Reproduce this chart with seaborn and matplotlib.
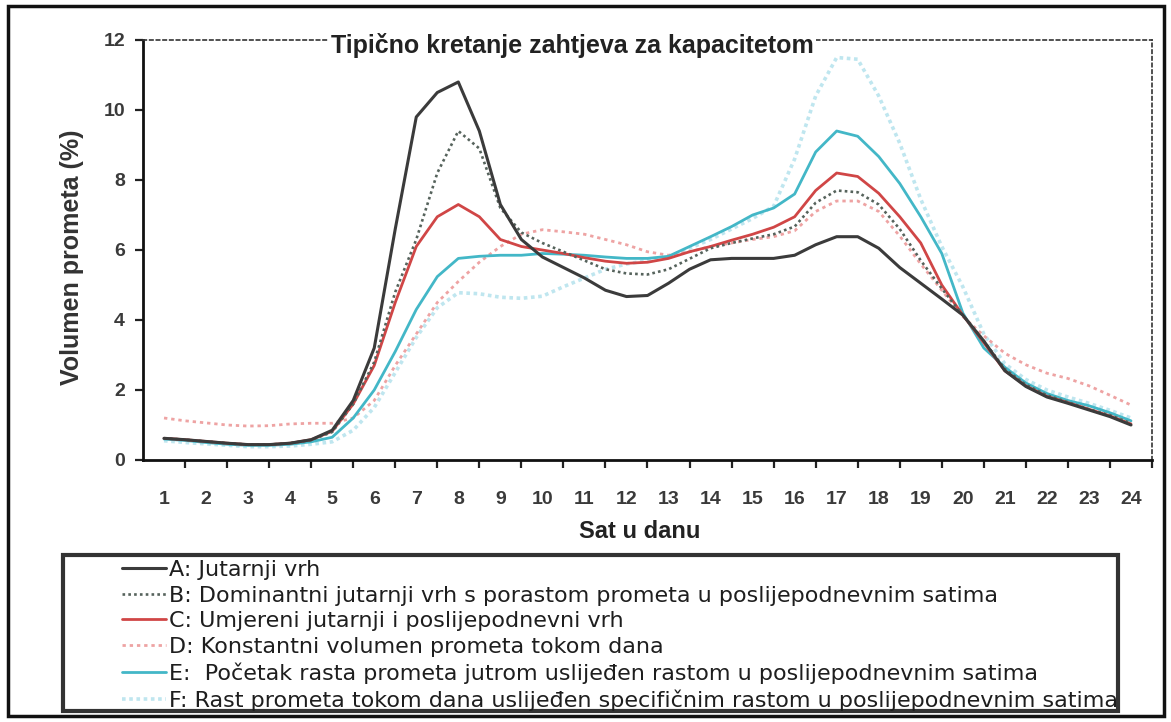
import numpy as np
import matplotlib
matplotlib.use("Agg")
import matplotlib.pyplot as plt
from matplotlib.patches import Rectangle
from matplotlib.lines import Line2D
import seaborn as sns

# sat u danu, po pola sata
hours = np.arange(1, 24.5, 0.5)

a_jutarnji = [0.62, 0.58, 0.53, 0.48, 0.44, 0.44, 0.48, 0.58, 0.85, 1.7, 3.2, 6.6, 9.8, 10.5, 10.8, 9.4,
              7.3, 6.3, 5.8, 5.5, 5.2, 4.85, 4.67, 4.7, 5.05, 5.45, 5.72, 5.76, 5.76, 5.76, 5.85, 6.15,
              6.38, 6.38, 6.05, 5.5, 5.05, 4.6, 4.14, 3.4, 2.55, 2.1, 1.8, 1.62, 1.43, 1.24, 1.0]
b_dominantni = [0.62, 0.58, 0.53, 0.48, 0.44, 0.44, 0.48, 0.57, 0.8, 1.6, 2.8, 4.8, 6.3, 8.2, 9.4, 8.9,
                7.2, 6.5, 6.2, 5.95, 5.7, 5.45, 5.33, 5.3, 5.45, 5.75, 6.05, 6.2, 6.33, 6.45, 6.67, 7.35,
                7.7, 7.65, 7.3, 6.6, 5.7, 4.9, 4.14, 3.4, 2.6, 2.15, 1.85, 1.65, 1.45, 1.28, 1.05]
c_umjereni = [0.62, 0.58, 0.53, 0.48, 0.44, 0.44, 0.48, 0.58, 0.82, 1.6, 2.7, 4.5, 6.1, 6.95, 7.3, 6.95,
              6.3, 6.1, 6.0, 5.9, 5.78, 5.68, 5.62, 5.65, 5.76, 5.95, 6.1, 6.28, 6.45, 6.65, 6.95, 7.7,
              8.2, 8.1, 7.62, 6.95, 6.2, 5.0, 4.14, 3.35, 2.55, 2.12, 1.82, 1.64, 1.45, 1.26, 1.03]
d_konstantni = [1.2, 1.12, 1.06, 1.0, 0.97, 0.98, 1.03, 1.05, 1.05, 1.2, 1.7, 2.7, 3.6, 4.5, 5.1, 5.65,
                6.1, 6.45, 6.58, 6.52, 6.45, 6.3, 6.15, 5.95, 5.85, 5.95, 6.1, 6.2, 6.3, 6.38, 6.55, 7.1,
                7.4, 7.4, 7.1, 6.4, 5.6, 4.85, 4.1, 3.55, 3.05, 2.72, 2.48, 2.33, 2.12, 1.85, 1.57]
e_pocetak = [0.6, 0.56, 0.5, 0.45, 0.42, 0.42, 0.45, 0.52, 0.65, 1.2, 2.0, 3.1, 4.3, 5.24, 5.76, 5.82,
             5.85, 5.85, 5.9, 5.88, 5.85, 5.8, 5.76, 5.76, 5.82, 6.1, 6.38, 6.67, 7.0, 7.2, 7.6, 8.8,
             9.4, 9.25, 8.67, 7.9, 6.95, 5.9, 4.2, 3.2, 2.65, 2.2, 1.9, 1.7, 1.55, 1.35, 1.12]
f_rast = [0.55, 0.5, 0.46, 0.42, 0.38, 0.38, 0.4, 0.45, 0.52, 0.85, 1.5, 2.5, 3.5, 4.35, 4.78, 4.75,
          4.65, 4.62, 4.68, 4.95, 5.2, 5.45, 5.6, 5.7, 5.8, 6.05, 6.3, 6.6, 6.9, 7.25, 8.6, 10.4,
          11.5, 11.45, 10.4, 9.05, 7.45, 6.1, 4.95, 3.6, 2.75, 2.3, 2.0, 1.8, 1.62, 1.42, 1.2]

legend_labels = [
    "A: Jutarnji vrh",
    "B: Dominantni jutarnji vrh s porastom prometa u poslijepodnevnim satima",
    "C: Umjereni jutarnji i poslijepodnevni vrh",
    "D: Konstantni volumen prometa tokom dana",
    "E:  Početak rasta prometa jutrom uslijeđen rastom u poslijepodnevnim satima",
    "F: Rast prometa tokom dana uslijeđen specifičnim rastom u poslijepodnevnim satima",
]
series = [a_jutarnji, b_dominantni, c_umjereni, d_konstantni, e_pocetak, f_rast]
colors = ["#3b3b3b", "#56635c", "#d04646", "#eea3a3", "#43b7c7", "#bfe6ef"]
styles = ["-", (0, (1, 1.2)), "-", (0, (1.2, 1.4)), "-", (0, (1, 1))]
widths = [2.2, 1.9, 2.0, 2.0, 2.0, 2.6]

sns.set_style("white")
plt.rcParams["font.family"] = ["Liberation Sans", "DejaVu Sans"]

W, H = 1171, 722
fig = plt.figure(figsize=(W / 100, H / 100), dpi=100)
ax = fig.add_axes([143 / W, 1 - 460 / H, (1152 - 143) / W, (460 - 40) / H])

# svjetlije linije prve, crna na vrhu
for i in [5, 3, 4, 2, 1, 0]:
    sns.lineplot(x=hours, y=series[i], ax=ax, color=colors[i], linestyle=styles[i],
                 linewidth=widths[i], legend=False)

ax.set_xlim(0.5, 24.5)
ax.set_ylim(0, 12)
ax.set_xticks(range(1, 25))
ax.set_xticks(np.arange(1.5, 25, 1), minor=True)
ax.tick_params(axis="x", which="major", bottom=False, pad=19, labelsize=14, labelcolor="#3a3a3a")
ax.tick_params(axis="x", which="minor", bottom=True, length=6, width=1.6, direction="out", color="#222")
ax.set_yticks(range(0, 13, 2))
ax.tick_params(axis="y", which="major", left=True, length=6, width=1.6, direction="out", pad=7,
               labelsize=14, labelcolor="#3a3a3a", color="#222")
for lab in ax.get_xticklabels() + ax.get_yticklabels():
    lab.set_fontweight("bold")
ax.set_xlabel("")
ax.set_ylabel("")

for s in ["left", "bottom"]:
    ax.spines[s].set_linewidth(2)
    ax.spines[s].set_color("#111")
for s in ["top", "right"]:
    ax.spines[s].set_linewidth(1.2)
    ax.spines[s].set_color("#333")
    ax.spines[s].set_linestyle((0, (2, 2)))

fig.text(572 / W, 1 - 45 / H, "Tipično kretanje zahtjeva za kapacitetom", ha="center", va="center",
         fontsize=18, fontweight="bold", color="#222",
         bbox=dict(facecolor="white", edgecolor="none", pad=2))
fig.text(72 / W, 1 - 257 / H, "Volumen prometa (%)", rotation=90, ha="center", va="center",
         fontsize=18, fontweight="bold", color="#333")
fig.text(640 / W, 1 - 531 / H, "Sat u danu", ha="center", va="center",
         fontsize=17, fontweight="bold", color="#222")

handles = [Line2D([0], [0], color=colors[i], linestyle=styles[i], linewidth=widths[i]) for i in range(6)]
fig.legend(handles, legend_labels, loc="upper left", bbox_to_anchor=(122 / W, 1 - 560 / H),
           frameon=False, handlelength=2.0, handletextpad=0.1, labelspacing=0.25, borderpad=0,
           borderaxespad=0, prop=dict(family="DejaVu Sans", size=16), labelcolor="#1e1e1e")

fig.add_artist(Rectangle((63 / W, 1 - 711 / H), (1118 - 63) / W, (711 - 555) / H,
                         transform=fig.transFigure, fill=False, edgecolor="#333", linewidth=3))
fig.add_artist(Rectangle((8 / W, 1 - 716 / H), (1164 - 8) / W, (716 - 6) / H,
                         transform=fig.transFigure, fill=False, edgecolor="#111", linewidth=2.5))

fig.savefig("out.png", dpi=100)
